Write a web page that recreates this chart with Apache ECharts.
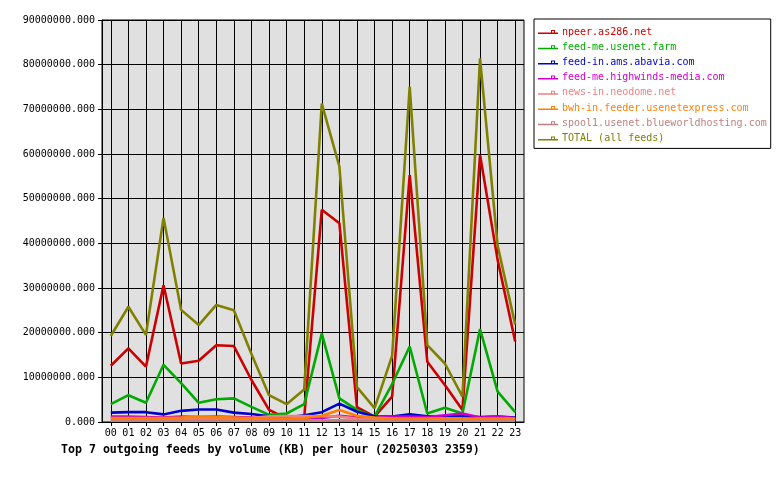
<!DOCTYPE html>
<html>
<head>
<meta charset="utf-8">
<script src="https://cdn.jsdelivr.net/npm/echarts@6/dist/echarts.min.js"></script>
<style>
html,body{margin:0;padding:0;background:#ffffff;}
#chart{width:780px;height:480px;}
</style>
</head>
<body>
<div id="chart"></div>
<script>
const hours = ['00','01','02','03','04','05','06','07','08','09','10','11','12','13','14','15','16','17','18','19','20','21','22','23'];
const seriesNames = ['npeer.as286.net','feed-me.usenet.farm','feed-in.ams.abavia.com','feed-me.highwinds-media.com','news-in.neodome.net','bwh-in.feeder.usenetexpress.com','spool1.usenet.blueworldhosting.com','TOTAL (all feeds)'];
const seriesColors = ['#cc0000','#00aa00','#0000cc','#cc00cc','#f08080','#ff8000','#c08080','#808000'];

const npeer     = [12600000,16500000,12400000,30600000,13100000,13700000,17200000,17000000,9400000,2700000,800000,1000000,47500000,44500000,3300000,1200000,5700000,55300000,13500000,8300000,2700000,59800000,36300000,18000000];
const usenetFarm= [4000000,6000000,4300000,12800000,8700000,4300000,5100000,5300000,3400000,1600000,1900000,4000000,19800000,5300000,2700000,1200000,8500000,16900000,1900000,3200000,1900000,20800000,6800000,2200000];
const abavia    = [2100000,2200000,2200000,1700000,2500000,2800000,2800000,2100000,1800000,1300000,1000000,1500000,2200000,4100000,2300000,1300000,1200000,1700000,1300000,1300000,1300000,1100000,1200000,1000000];
const highwinds = [1200000,1200000,1100000,1000000,1200000,1100000,1200000,1100000,1000000,800000,800000,800000,900000,1400000,1000000,900000,1200000,1200000,1100000,1500000,1900000,1000000,1200000,900000];
const neodome   = [700000,700000,700000,700000,700000,700000,700000,800000,900000,1300000,1350000,1350000,1300000,1200000,800000,700000,600000,600000,600000,600000,600000,600000,600000,600000];
const usenetExpress = [900000,900000,900000,900000,1000000,1200000,1100000,1000000,900000,800000,800000,900000,1400000,2700000,1400000,1000000,800000,800000,800000,800000,800000,800000,800000,800000];
const blueworld = [300000,300000,300000,300000,300000,300000,300000,300000,300000,300000,300000,300000,300000,400000,300000,300000,300000,300000,300000,300000,300000,300000,300000,300000];
const total     = [19250000,25800000,19500000,45700000,25100000,21700000,26200000,25000000,15200000,6000000,4000000,7300000,71300000,57200000,7800000,3100000,14800000,75100000,17200000,13100000,5700000,81400000,39500000,21800000];

const yTicksMax = 90000000;
const yInterval = 10000000;

const seriesData = [npeer, usenetFarm, abavia, highwinds, neodome, usenetExpress, blueworld, total];

const mono = 'DejaVu Sans Mono';
const chart = echarts.init(document.getElementById('chart'), null, {renderer:'canvas'});

const legendIcon = 'path://M0,6 L20,6 L20,7.5 L0,7.5 Z M13,3.5 L13,6 L17,6 L17,3.5 Z M14,4.5 L16,4.5 L16,6 L14,6 Z';

chart.setOption({
  animation: false,
  backgroundColor: '#ffffff',
  title: {
    text: 'Top 7 outgoing feeds by volume (KB) per hour (20250303 2359)',
    left: 61, top: 444,
    padding: 0,
    textStyle: {fontFamily: mono, fontSize: 11.6, fontWeight: 'bold', color: '#000'}
  },
  legend: {
    orient: 'vertical',
    left: 534, top: 19,
    padding: [7, 4, 4, 4],
    itemGap: 3.2,
    itemWidth: 20, itemHeight: 12,
    borderColor: '#000', borderWidth: 1,
    icon: legendIcon,
    data: seriesNames.map((n, i) => ({name: n, icon: legendIcon, textStyle: {color: seriesColors[i]}})),
    textStyle: {fontFamily: mono, fontSize: 10, height: 12, lineHeight: 12, padding: [0,0,0,-1]}
  },
  grid: {
    left: 102, right: 256, top: 20, bottom: 58,
    show: true, backgroundColor: '#e0e0e0', borderColor: '#000', borderWidth: 1,
    containLabel: false
  },
  xAxis: {
    type: 'category',
    data: hours,
    boundaryGap: true,
    axisLine: {lineStyle: {color: '#000', width: 1}},
    axisTick: {show: true, alignWithLabel: true, length: 4, lineStyle: {color: '#000'}},
    splitLine: {show: true, alignWithLabel: true, lineStyle: {color: '#000', width: 1}},
    axisLabel: {fontFamily: mono, fontSize: 10, color: '#000', margin: 6, interval: 0}
  },
  yAxis: {
    type: 'value',
    min: 0, max: yTicksMax, interval: yInterval,
    axisLine: {show: true, lineStyle: {color: '#000', width: 1}},
    axisTick: {show: true, length: 4, lineStyle: {color: '#000'}},
    splitLine: {show: true, lineStyle: {color: '#000', width: 1}},
    axisLabel: {fontFamily: mono, fontSize: 10, color: '#000', margin: 7,
      formatter: v => v.toFixed(3)}
  },
  series: seriesData.map((d, i) => ({
    name: seriesNames[i],
    type: 'line',
    data: d,
    showSymbol: false,
    symbol: 'none',
    color: seriesColors[i],
    lineStyle: {width: 2.6, color: seriesColors[i]},
    z: 2 + i
  }))
});
</script>
</body>
</html>
